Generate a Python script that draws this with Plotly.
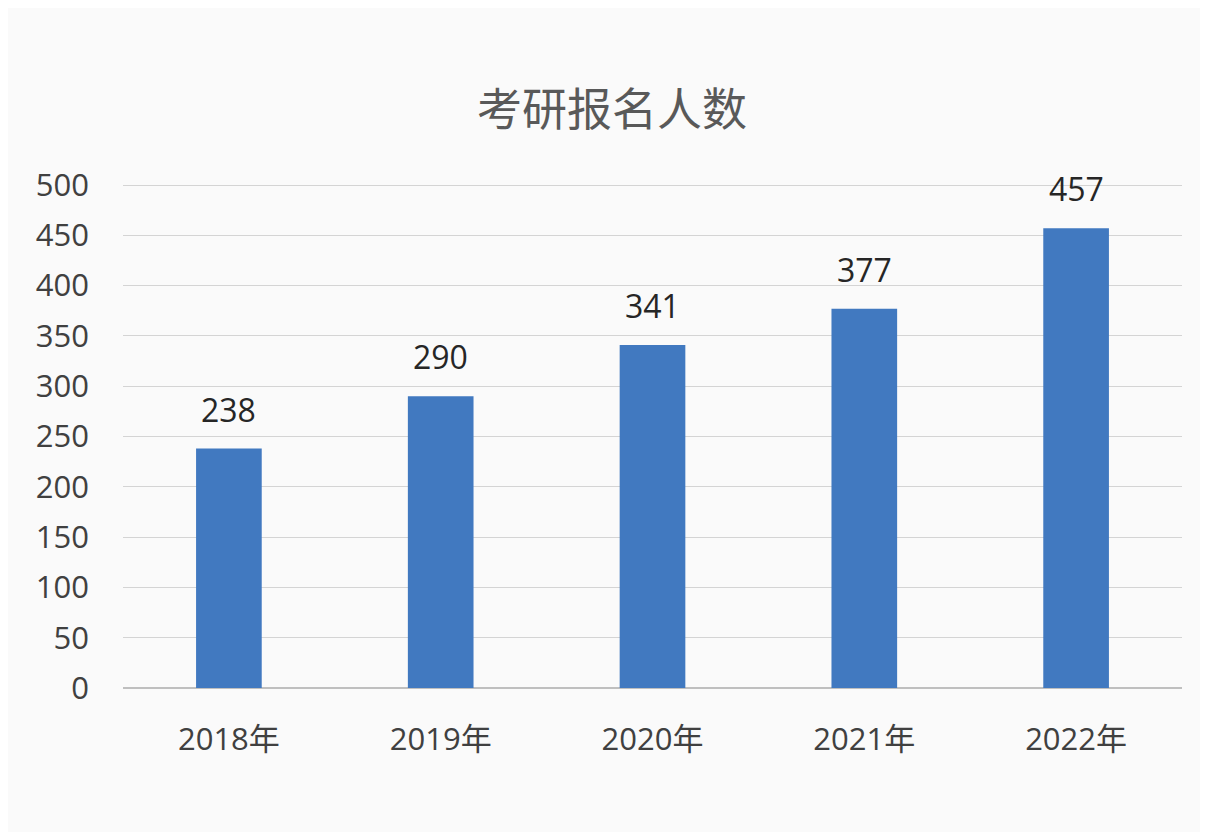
import plotly.graph_objects as go

years = ["2018年", "2019年", "2020年", "2021年", "2022年"]
applicants = [238, 290, 341, 377, 457]
y_ticks = [0, 50, 100, 150, 200, 250, 300, 350, 400, 450, 500]

FONT = "Open Sans, Noto Sans CJK SC, sans-serif"
TITLE_FONT = "Noto Sans CJK SC, sans-serif"
BAR_COLOR = "#4179c0"

fig = go.Figure()
fig.add_trace(go.Bar(
    x=years, y=applicants,
    marker=dict(color=BAR_COLOR, line=dict(width=0)),
    width=0.31,
    hoverinfo="x+y",
))

for yr, v in zip(years, applicants):
    fig.add_annotation(
        x=yr, y=v, text=str(v), showarrow=False,
        yanchor="bottom", yshift=16,
        font=dict(family=FONT, size=32, color="#262626"),
    )

# page body adds ~8px offset, so margins are trimmed on left/top
fig.update_layout(
    width=1208, height=832,
    paper_bgcolor="#fafafa", plot_bgcolor="#fafafa",
    margin=dict(l=115, r=34, t=172, b=152),
    title=dict(text="考研报名人数", x=0.5, xanchor="center", y=0.877, yanchor="middle",
               font=dict(family=TITLE_FONT, size=45, color="#595959")),
    showlegend=False,
    font=dict(family=FONT),
)
fig.update_xaxes(
    type="category", showgrid=False, showline=False, zeroline=False,
    ticks="", ticklabelstandoff=30,
    tickfont=dict(family=FONT, size=31, color="#404040"),
)
fig.update_yaxes(
    range=[0, 505], tickvals=y_ticks, showgrid=True, gridcolor="#d4d4d4", gridwidth=1,
    zeroline=True, zerolinecolor="#bfbfbf", zerolinewidth=1.5, showline=False,
    ticks="", ticklabelstandoff=33,
    tickfont=dict(family=FONT, size=31, color="#404040"),
)

fig.write_html("out.html")
